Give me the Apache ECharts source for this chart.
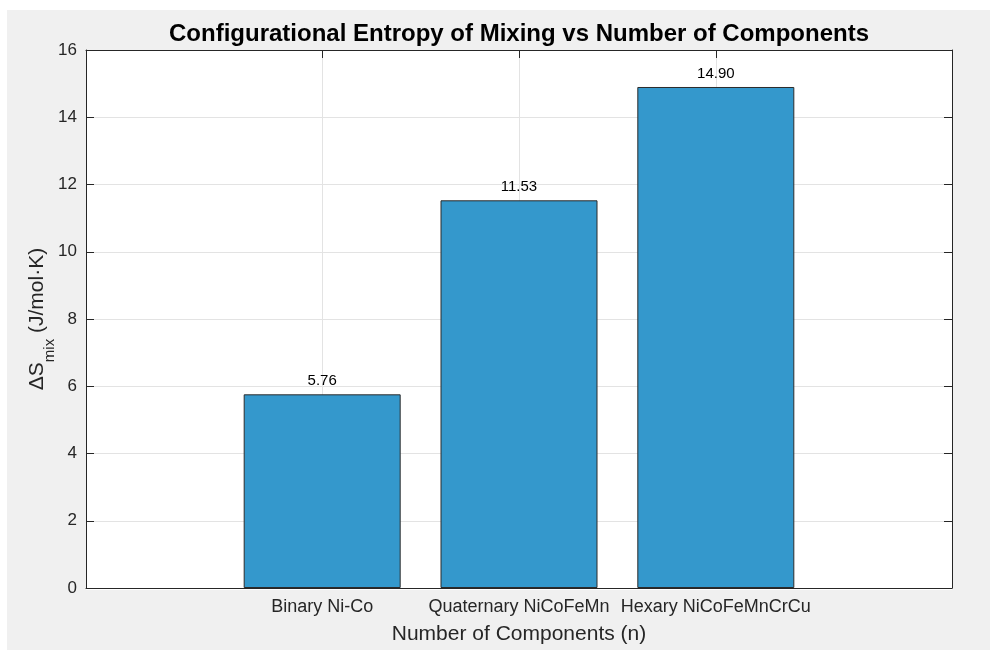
<!DOCTYPE html>
<html>
<head>
<meta charset="utf-8">
<script src="https://cdn.jsdelivr.net/npm/echarts@6/dist/echarts.min.js"></script>
<style>
html,body{margin:0;padding:0;background:#ffffff;}
#chart{width:990px;height:650px;}
</style>
</head>
<body>
<div id="chart"></div>
<script>
var categories = ['Binary Ni-Co', 'Quaternary NiCoFeMn', 'Hexary NiCoFeMnCrCu'];
var entropyValues = [5.76, 11.53, 14.90];
var yTicks = [0, 2, 4, 6, 8, 10, 12, 14, 16];

var positions = categories.map(function (c, i) { return i + 1; });
var barData = entropyValues.map(function (v, i) { return [positions[i], v]; });

var font = '"Liberation Sans", Arial, Helvetica, sans-serif';
var axisColor = '#262626';
var gridColor = '#e3e3e3';

var chart = echarts.init(document.getElementById('chart'), null, {renderer: 'canvas'});

var option = {
  backgroundColor: '#ffffff',
  animation: false,
  graphic: [{
    type: 'rect', z: -10, silent: true,
    shape: {x: 7, y: 10, width: 983, height: 640},
    style: {fill: '#f0f0f0'}
  }, {
    type: 'rect', z: -9, silent: true,
    shape: {x: 86, y: 50, width: 866, height: 540},
    style: {fill: '#ffffff'}
  }],
  title: {
    text: 'Configurational Entropy of Mixing vs Number of Components',
    left: 514, top: 17, textAlign: 'center',
    textStyle: {fontFamily: font, fontSize: 24, fontWeight: 'bold', color: '#000000'}
  },
  grid: {left: 86, top: 50, width: 866, height: 540, containLabel: false},
  xAxis: [{
    type: 'value', min: -0.2, max: 4.2, position: 'bottom',
    name: 'Number of Components (n)', nameLocation: 'middle', nameGap: 36,
    nameTextStyle: {fontFamily: font, fontSize: 21, color: axisColor},
    axisLine: {show: true, onZero: false, lineStyle: {color: axisColor, width: 1}},
    axisTick: {show: true, inside: true, length: 8, customValues: positions, lineStyle: {color: axisColor}},
    axisLabel: {
      customValues: positions, margin: 10,
      fontFamily: font, fontSize: 18, color: axisColor,
      formatter: function (v) { var i = Math.round(v) - 1; return categories[i] || ''; }
    },
    splitLine: {show: true, lineStyle: {color: gridColor, width: 1}}
  }, {
    type: 'value', min: -0.2, max: 4.2, position: 'top',
    axisLine: {show: true, onZero: false, lineStyle: {color: axisColor, width: 1}},
    axisTick: {show: true, inside: true, length: 8, customValues: positions, lineStyle: {color: axisColor}},
    axisLabel: {show: false},
    splitLine: {show: false}
  }],
  yAxis: [{
    type: 'value', min: 0, max: 16, interval: 2, position: 'left',
    name: '{a|ΔS}{sub|mix}{a| (J/mol·K)}', nameLocation: 'middle', nameGap: 33, nameRotate: 90,
    nameMoveOverlap: false,
    nameTextStyle: {
      fontFamily: font, fontSize: 21, color: axisColor,
      rich: {
        a: {fontFamily: font, fontSize: 21, color: axisColor, lineHeight: 26, verticalAlign: 'top'},
        sub: {fontFamily: font, fontSize: 15, color: axisColor, lineHeight: 14, verticalAlign: 'top', padding: [15, 0, 0, 0]}
      }
    },
    axisLine: {show: true, onZero: false, lineStyle: {color: axisColor, width: 1}},
    axisTick: {show: true, inside: true, length: 8, lineStyle: {color: axisColor}},
    axisLabel: {fontFamily: font, fontSize: 17, color: axisColor, margin: 9,
      formatter: function (v) { return yTicks.indexOf(v) >= 0 ? String(v) : ''; }},
    splitLine: {show: true, lineStyle: {color: gridColor, width: 1}}
  }, {
    type: 'value', min: 0, max: 16, interval: 2, position: 'right',
    axisLine: {show: true, onZero: false, lineStyle: {color: axisColor, width: 1}},
    axisTick: {show: true, inside: true, length: 8, lineStyle: {color: axisColor}},
    axisLabel: {show: false},
    splitLine: {show: false}
  }],
  series: [{
    type: 'bar',
    xAxisIndex: 0, yAxisIndex: 0,
    data: barData,
    barWidth: 157,
    itemStyle: {color: '#3498cc', borderColor: '#2b2b2b', borderWidth: 1},
    label: {
      show: true, position: 'top', distance: 6,
      fontFamily: font, fontSize: 15, color: '#000000',
      formatter: function (p) { return p.value[1].toFixed(2); }
    },
    z: 2
  }]
};

chart.setOption(option);
</script>
</body>
</html>
